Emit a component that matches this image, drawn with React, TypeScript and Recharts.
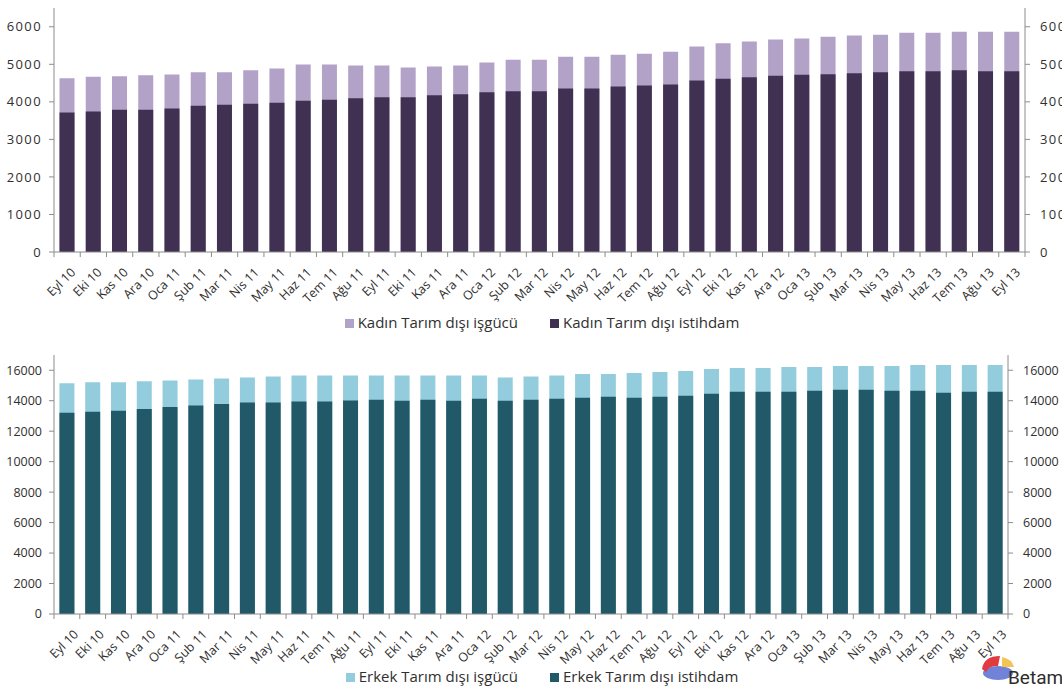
import React from 'react';
import { BarChart, Bar, XAxis, YAxis, Legend } from 'recharts';

const months = [
  'Eyl 10', 'Eki 10', 'Kas 10', 'Ara 10', 'Oca 11', 'Şub 11', 'Mar 11', 'Nis 11', 'May 11', 'Haz 11',
  'Tem 11', 'Ağu 11', 'Eyl 11', 'Eki 11', 'Kas 11', 'Ara 11', 'Oca 12', 'Şub 12', 'Mar 12', 'Nis 12',
  'May 12', 'Haz 12', 'Tem 12', 'Ağu 12', 'Eyl 12', 'Eki 12', 'Kas 12', 'Ara 12', 'Oca 13', 'Şub 13',
  'Mar 13', 'Nis 13', 'May 13', 'Haz 13', 'Tem 13', 'Ağu 13', 'Eyl 13',
];

const kadinIsgucu = [
  4630, 4667, 4684, 4711, 4729, 4791, 4791, 4844, 4889, 4996,
  4996, 4969, 4969, 4916, 4942, 4969, 5049, 5120, 5120, 5200,
  5200, 5253, 5280, 5333, 5476, 5564, 5609, 5662, 5689, 5733,
  5769, 5787, 5840, 5840, 5867, 5867, 5867,
];
const kadinIstihdam = [
  3715, 3742, 3787, 3787, 3822, 3893, 3920, 3947, 3973, 4027,
  4053, 4098, 4124, 4124, 4178, 4204, 4258, 4284, 4284, 4356,
  4356, 4409, 4436, 4462, 4569, 4613, 4658, 4693, 4720, 4738,
  4764, 4791, 4818, 4818, 4844, 4818, 4818,
];

const erkekIsgucu = [
  15150, 15215, 15215, 15280, 15325, 15390, 15455, 15520, 15586, 15651,
  15651, 15651, 15651, 15651, 15651, 15651, 15651, 15520, 15586, 15651,
  15760, 15760, 15826, 15891, 15957, 16087, 16153, 16153, 16218, 16218,
  16283, 16283, 16283, 16349, 16349, 16349, 16349,
];
const erkekIstihdam = [
  13210, 13275, 13340, 13450, 13580, 13690, 13777, 13885, 13885, 13951,
  13951, 14016, 14060, 13995, 14060, 13995, 14125, 13995, 14060, 14125,
  14190, 14256, 14190, 14256, 14321, 14452, 14583, 14583, 14583, 14649,
  14714, 14714, 14649, 14649, 14518, 14583, 14583,
];

const kadinTicks = [0, 1000, 2000, 3000, 4000, 5000, 6000];
const erkekTicks = [0, 2000, 4000, 6000, 8000, 10000, 12000, 14000, 16000];

const kadinData = months.map((m, i) => ({
  month: m,
  isgucu: kadinIsgucu[i],
  istihdam: kadinIstihdam[i],
}));
const erkekData = months.map((m, i) => ({
  month: m,
  isgucu: erkekIsgucu[i],
  istihdam: erkekIstihdam[i],
}));

const AXIS = '#8c8c8c';
const TEXT = '#303030';
const FONT = '"Open Sans", sans-serif';
const CHART_W = 1062;
const LEFT_MARGIN = 4;
const LEFT_AXIS_W = 50;

type PanelProps = {
  data: any[];
  height: number;
  top: number;
  xHeight: number;
  rightWidth: number;
  domain: [number, number];
  ticks: number[];
  laborName: string;
  empName: string;
  laborColor: string;
  empColor: string;
  legendTop: number;
  yFont: number;
  ySpacing: number;
  labelDx: number;
  labelDy: number;
};

function makeTick(band: number, dx: number, dy: number) {
  return (props: any) => {
    const { x, y, payload, index } = props;
    const half = band / 2;
    return (
      <g>
        <line x1={x - half} y1={y} x2={x - half} y2={y + 5} stroke={AXIS} />
        {index === months.length - 1 && (
          <line x1={x + half} y1={y} x2={x + half} y2={y + 5} stroke={AXIS} />
        )}
        <text
          transform={`translate(${x + dx},${y + dy}) rotate(-45)`}
          textAnchor="end"
          dy="0.35em"
          fontSize={12.5}
          fill={TEXT}
          fontFamily={FONT}
        >
          {payload.value}
        </text>
      </g>
    );
  };
}

function Panel(p: PanelProps) {
  const yTick = { fontSize: p.yFont, fill: TEXT, letterSpacing: p.ySpacing };
  const plotW = CHART_W - LEFT_MARGIN - LEFT_AXIS_W - p.rightWidth;
  const band = plotW / months.length;
  return (
    <BarChart
      width={CHART_W}
      height={p.height}
      data={p.data}
      margin={{ top: p.top, right: 0, bottom: 0, left: LEFT_MARGIN }}
      barCategoryGap="21%"
      style={{ fontFamily: FONT }}
    >
      <XAxis
        xAxisId="a_main"
        dataKey="month"
        interval={0}
        height={p.xHeight}
        tickLine={false}
        tickSize={0}
        tickMargin={0}
        axisLine={{ stroke: AXIS }}
        tick={makeTick(band, p.labelDx, p.labelDy)}
      />
      <XAxis xAxisId="b_bg" dataKey="month" hide height={0} />
      <YAxis
        yAxisId="left"
        orientation="left"
        width={LEFT_AXIS_W}
        domain={p.domain}
        allowDataOverflow
        ticks={p.ticks}
        interval={0}
        tickSize={5}
        tickMargin={7}
        axisLine={{ stroke: AXIS }}
        tickLine={{ stroke: AXIS }}
        tick={yTick}
      />
      <YAxis
        yAxisId="right"
        orientation="right"
        width={p.rightWidth}
        domain={p.domain}
        allowDataOverflow
        ticks={p.ticks}
        interval={0}
        tickSize={5}
        tickMargin={10}
        axisLine={{ stroke: AXIS }}
        tickLine={{ stroke: AXIS }}
        tick={{ ...yTick, textAnchor: 'start' }}
      />
      <Bar
        xAxisId="b_bg"
        yAxisId="left"
        dataKey="isgucu"
        name={p.laborName}
        fill={p.laborColor}
        isAnimationActive={false}
      />
      <Bar
        xAxisId="a_main"
        yAxisId="left"
        dataKey="istihdam"
        name={p.empName}
        fill={p.empColor}
        isAnimationActive={false}
      />
      <Legend
        verticalAlign="middle"
        align="center"
        layout="horizontal"
        iconType="square"
        iconSize={9}
        itemSorter={(item: any) => (item.dataKey === 'isgucu' ? 0 : 1)}
        wrapperStyle={{ top: p.legendTop, fontSize: 15, fontFamily: FONT, paddingLeft: 14 }}
        formatter={(v: string, entry: any) => (
          <span style={{ color: TEXT, paddingRight: entry && entry.dataKey === 'isgucu' ? 22 : 0 }}>{v}</span>
        )}
      />
    </BarChart>
  );
}

function BetamLogo() {
  return (
    <svg width={100} height={42} style={{ position: 'absolute', left: 962, top: 646 }}>
      <ellipse cx={36} cy={27} rx={15} ry={7} fill="#7183d8" />
      <path d="M 20 23 Q 22 10 38 10 L 36 20 Q 27 19 24 26 Z" fill="#e23a3f" />
      <path d="M 40 11 Q 50 13 52 21 L 40 21 Z" fill="#f4c552" />
      <text x={46} y={38} fontSize={19} fill="#2d2d2d" fontFamily="Roboto, sans-serif">Betam</text>
    </svg>
  );
}

export default function App() {
  return (
    <div style={{ position: 'absolute', left: 0, top: 0, width: 1062, height: 686, background: '#fff', overflow: 'hidden' }}>
      <div style={{ position: 'absolute', left: 0, top: 0 }}>
        <Panel
          data={kadinData}
          height={340}
          top={8}
          xHeight={88}
          rightWidth={37}
          domain={[0, 6500]}
          ticks={kadinTicks}
          laborName="Kadın Tarım dışı işgücü"
          empName="Kadın Tarım dışı istihdam"
          laborColor="#b3a2c7"
          empColor="#403152"
          legendTop={312}
          yFont={13}
          ySpacing={1.4}
          labelDx={6}
          labelDy={18}
        />
      </div>
      <div style={{ position: 'absolute', left: 0, top: 340 }}>
        <Panel
          data={erkekData}
          height={346}
          top={15}
          xHeight={72}
          rightWidth={54}
          domain={[0, 17000]}
          ticks={erkekTicks}
          laborName="Erkek Tarım dışı işgücü"
          empName="Erkek Tarım dışı istihdam"
          laborColor="#93cddd"
          empColor="#215968"
          legendTop={326}
          yFont={12.5}
          ySpacing={0}
          labelDx={9}
          labelDy={18}
        />
      </div>
      <BetamLogo />
    </div>
  );
}
